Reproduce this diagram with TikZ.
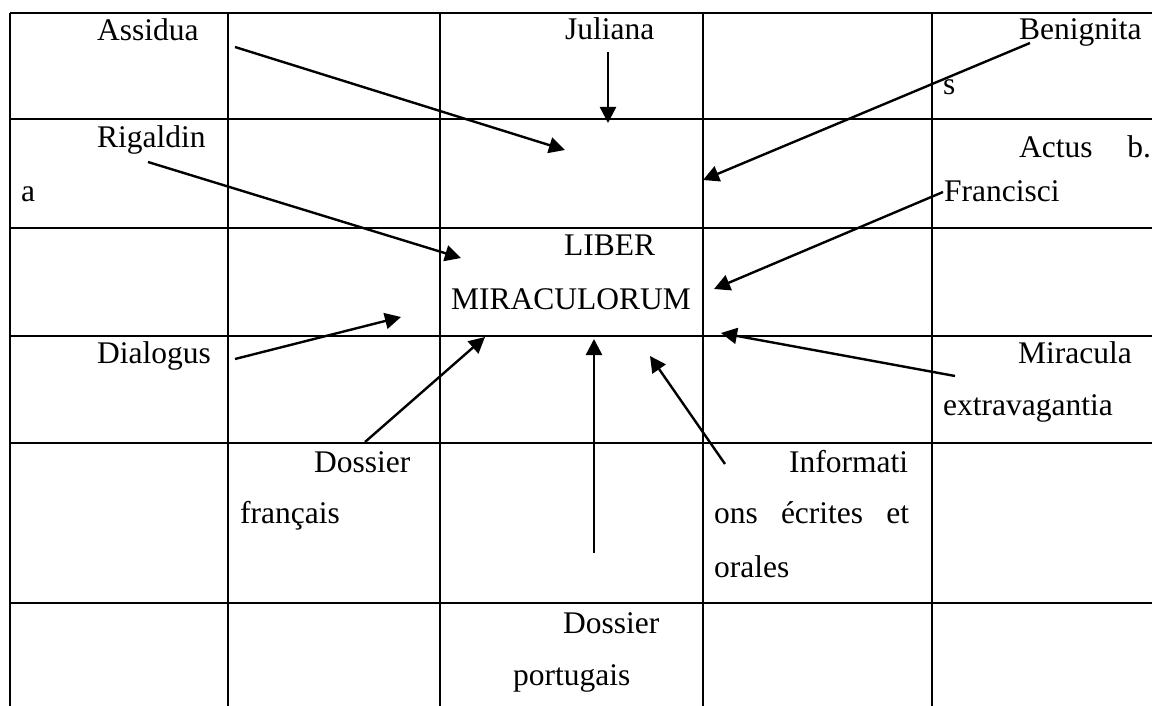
\documentclass[tikz,border=0pt]{standalone}
\usepackage{fontspec}
\setmainfont{Liberation Serif}
\usetikzlibrary{arrows.meta}

\newcommand{\cellfont}{\fontsize{15.75}{18}\selectfont}

\begin{document}
\begin{tikzpicture}[x=0.5pt, y=-0.5pt, line width=1.1pt,
  lbl/.style={anchor=base west, inner sep=0pt, font=\cellfont},
  src/.style={-{Triangle[length=8pt, width=8pt]}, line width=1.2pt}]
\useasboundingbox (0,0) rectangle (1152,706);

% the table
\foreach \y in {13,119,228,336,443,603}
  \draw (10,\y) -- (1152,\y);
\foreach \x in {10,228,440,703,932}
  \draw (\x,13) -- (\x,706);

% cell texts
\node[lbl] (assidua) at (96,41) {Assidua};
\node[lbl] (juliana) at (564,40) {Juliana};
\node[lbl] (benignita) at (1018,40) {Benignita};
\node[lbl] (benignitaS) at (942,95) {s};
\node[lbl] (rigaldin) at (96,148) {Rigaldin};
\node[lbl] (rigaldinA) at (20,202) {a};
\node[lbl, text width=66pt] (actus) at (1018,157) {Actus\hfill b.};
\node[lbl] (francisci) at (943,202) {Francisci};
\node[lbl] (liber) at (563,256) {LIBER};
\node[lbl] (miraculorum) at (450,309) {MIRACULORUM};
\node[lbl] (dialogus) at (96,363) {Dialogus};
\node[lbl] (miracula) at (1017,363) {Miracula};
\node[lbl] (extrav) at (942,415) {extravagantia};
\node[lbl] (dossierF) at (313,472) {Dossier};
\node[lbl] (francais) at (239,523) {français};
\node[lbl] (informati) at (788,472) {Informati};
\node[lbl, text width=97.5pt] (ons) at (713,523) {ons\hfill écrites\hfill et};
\node[lbl] (orales) at (713,577) {orales};
\node[lbl] (dossierP) at (562,633) {Dossier};
\node[lbl] (portugais) at (512,685) {portugais};

% arrow ends
\coordinate (assidua-s) at (235,47);   \coordinate (assidua-e) at (565,150);
\coordinate (juliana-s) at (608,52);   \coordinate (juliana-e) at (608,123);
\coordinate (benign-s) at (1030,43);   \coordinate (benign-e) at (703,180);
\coordinate (rigald-s) at (148,162);   \coordinate (rigald-e) at (461,258);
\coordinate (actus-s) at (943,192);    \coordinate (actus-e) at (714,289);
\coordinate (dial-s) at (235,359);     \coordinate (dial-e) at (401,317);
\coordinate (dosF-s) at (365,442);     \coordinate (dosF-e) at (485,337);
\coordinate (dosP-s) at (594,553);     \coordinate (dosP-e) at (594,339);
\coordinate (info-s) at (725,464);     \coordinate (info-e) at (650,356);
\coordinate (mira-s) at (955,376);     \coordinate (mira-e) at (721,333);

% sources into the Liber
\foreach \a in {assidua,juliana,benign,rigald,actus,dial,dosF,dosP,info,mira}
  \draw[src] (\a-s) -- (\a-e);

\end{tikzpicture}
\end{document}
